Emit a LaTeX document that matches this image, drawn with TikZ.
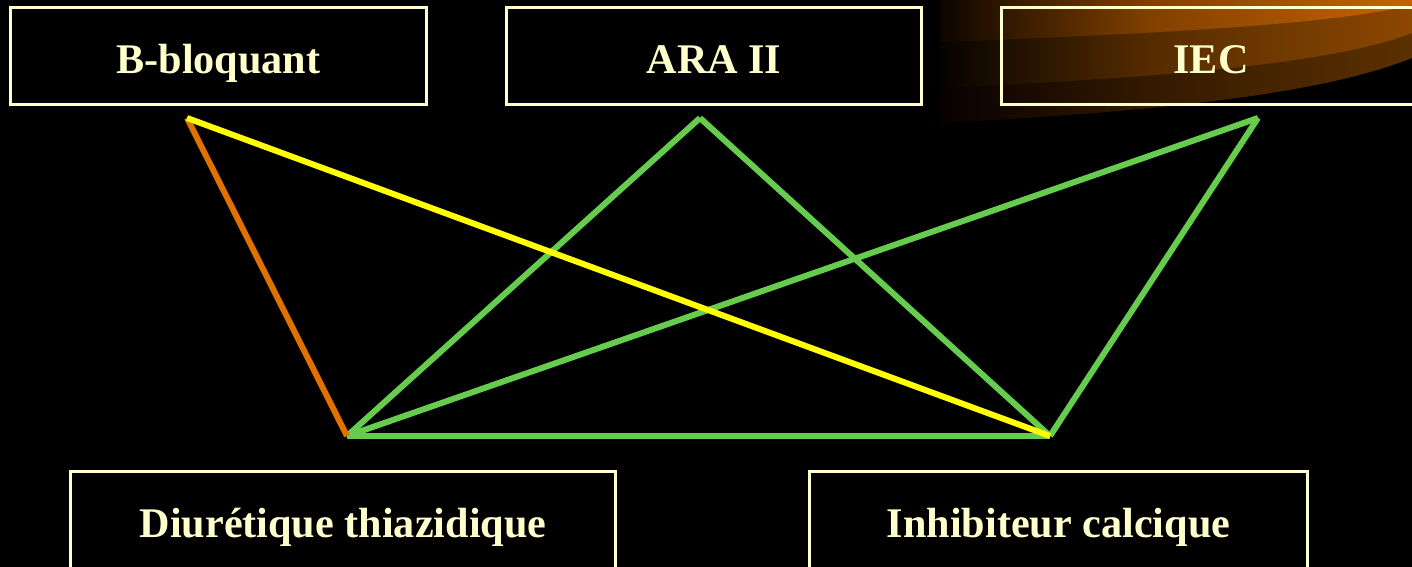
\documentclass[tikz,border=0pt]{standalone}
\usepackage{fontspec}
\setmainfont{Liberation Serif}
\pgfdeclarehorizontalshading{swtop}{100bp}{rgb(0bp)=(0.05,0.02,0); rgb(25bp)=(0.05,0.02,0); rgb(47bp)=(0.50,0.25,0); rgb(75bp)=(0.78,0.39,0); rgb(100bp)=(0.78,0.39,0)}
\pgfdeclarehorizontalshading{swmid}{100bp}{rgb(0bp)=(0.02,0.01,0); rgb(25bp)=(0.02,0.01,0); rgb(47bp)=(0.33,0.17,0); rgb(75bp)=(0.55,0.28,0); rgb(100bp)=(0.55,0.28,0)}
\pgfdeclarehorizontalshading{swbot}{100bp}{rgb(0bp)=(0.03,0,0); rgb(25bp)=(0.03,0,0); rgb(47bp)=(0.20,0.10,0); rgb(75bp)=(0.36,0.19,0); rgb(100bp)=(0.36,0.19,0)}
\begin{document}
\begin{tikzpicture}[x=0.01cm,y=-0.01cm,
  box/.style={draw=cream, line width=0.03cm, rectangle, minimum height=0.96cm,
    text=cream, font=\fontsize{12}{14}\selectfont\bfseries, inner sep=0pt,
    text height=0.37cm, text depth=0.02cm},
  link/.style={line width=0.06cm},
  greenlink/.style={link, draw=lgreen},
]
\definecolor{cream}{HTML}{FFFFCC}
\definecolor{lgreen}{HTML}{66CC4D}
\definecolor{lyellow}{HTML}{FFFF00}
\definecolor{lorange}{HTML}{E07000}
\useasboundingbox (0,0) rectangle (1412,567);
\fill[black] (0,0) rectangle (1412,567);
% swoosh bands
\shade[shading=swbot] (940,0) -- (940,123) .. controls (1150,112) and (1320,95) .. (1412,58) -- (1412,0) -- cycle;
\shade[shading=swmid] (940,0) -- (940,88) .. controls (1150,78) and (1330,65) .. (1412,33) -- (1412,0) -- cycle;
\shade[shading=swtop] (940,0) -- (940,42) .. controls (1150,34) and (1330,25) .. (1412,5) -- (1412,0) -- cycle;
% boxes
\node[box, minimum width=4.15cm] (bb) at (218.5,56) {B-bloquant};
\node[box, minimum width=4.14cm] (ara) at (714,56) {ARA II};
\node[box, minimum width=4.18cm] (iec) at (1211,56) {IEC};
\node[box, minimum width=5.44cm] (diu) at (343,520) {Diurétique thiazidique};
\node[box, minimum width=4.97cm] (inh) at (1058.5,520) {Inhibiteur calcique};
% link endpoints
\coordinate (pb) at (187,118);
\coordinate (pa) at (700,118);
\coordinate (pi) at (1258,118);
\coordinate (pd) at (347,436);
\coordinate (pc) at (1050,436);
% links
\draw[greenlink] (pa) -- (pd);
\draw[greenlink] (pa) -- (pc);
\draw[greenlink] (pi) -- (pd);
\draw[greenlink] (pi) -- (pc);
\draw[greenlink] (pd) -- (pc);
\draw[link, draw=lorange] (pb) -- (pd);
\draw[link, draw=lyellow] (pb) -- (pc);
\end{tikzpicture}
\end{document}
